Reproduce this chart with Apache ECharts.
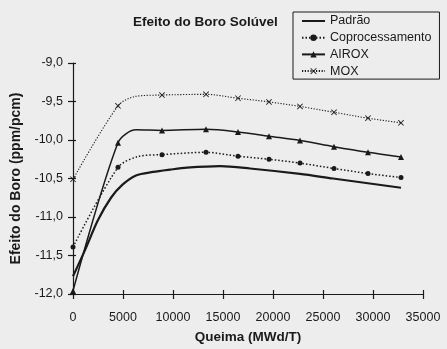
<!DOCTYPE html>
<html>
<head>
<meta charset="utf-8">
<script src="https://cdn.jsdelivr.net/npm/echarts@6/dist/echarts.min.js"></script>
<style>
html,body{margin:0;padding:0;background:#ededed;}
#chart{width:447px;height:349px;}
</style>
</head>
<body>
<div id="chart"></div>
<script>
// ---- data ----
const seriesNames = ['Padrão', 'Coprocessamento', 'AIROX', 'MOX'];
const xTicks = [0, 5000, 10000, 15000, 20000, 25000, 30000, 35000];
const yTicks = [-12.0, -11.5, -11.0, -10.5, -10.0, -9.5, -9.0];

// marked burnup points (MWd/T)
const burnup = [0, 4500, 8900, 13300, 16500, 19600, 22700, 26100, 29500, 32800];
const moxY   = [-10.51, -9.556, -9.416, -9.407, -9.458, -9.505, -9.564, -9.640, -9.717, -9.777];
const airoxY = [-11.96, -10.036, -9.875, -9.862, -9.895, -9.951, -10.006, -10.087, -10.160, -10.220];
const coproY = [-11.39, -10.355, -10.190, -10.160, -10.210, -10.250, -10.300, -10.370, -10.436, -10.487];

// unmarked bend points
const moxBendX = [6200];   const moxBendY = [-9.435];
const airoxBendX = [6300]; const airoxBendY = [-9.868];
const coproBendX = [6500]; const coproBendY = [-10.215];

// Padrão (no markers)
const padraoX = [0, 1200, 2500, 3800, 4950, 6300, 8000, 9700, 11400, 14700, 17700, 22700, 26000, 32800];
const padraoY = [-11.77, -11.43, -11.04, -10.75, -10.58, -10.46, -10.415, -10.385, -10.36, -10.34, -10.37, -10.44, -10.50, -10.62];

// ---- build ----
function merged(xs, ys, bx, by) {
  const pts = xs.map((x, i) => ({ value: [x, ys[i]] }));
  bx.forEach((x, i) => pts.push({ value: [x, by[i]], symbol: 'none' }));
  pts.sort((a, b) => a.value[0] - b.value[0]);
  return pts;
}
const ink = '#1a1a1a';
const font = "'Liberation Sans', Arial, Helvetica, sans-serif";
const xSym = 'path://M0,1 L1,0 L5,4 L9,0 L10,1 L6,5 L10,9 L9,10 L5,6 L1,10 L0,9 L4,5 Z';

const chart = echarts.init(document.getElementById('chart'), null, { renderer: 'canvas' });
const gridPos = { left: 73, right: 24, top: 63, bottom: 50 };
const fmtY = v => v.toFixed(1).replace('.', ',');
const fmtX = v => String(v);

chart.setOption({
  backgroundColor: '#ededed',
  animation: false,
  textStyle: { fontFamily: font, color: ink },
  title: {
    text: 'Efeito do Boro Solúvel',
    left: 133, top: 15, padding: 0,
    textStyle: { fontFamily: font, fontSize: 13.5, fontWeight: 'bold', color: ink }
  },
  legend: {
    orient: 'vertical',
    left: 293, top: 12,
    padding: [2, 8, 1, 8],
    borderColor: ink, borderWidth: 1,
    itemGap: 2.7, itemWidth: 23, itemHeight: 8,
    data: seriesNames,
    textStyle: { fontFamily: font, fontSize: 12.5, lineHeight: 14, color: ink }
  },
  grid: gridPos,
  xAxis: [{
    type: 'value', min: xTicks[0], max: xTicks[xTicks.length - 1], interval: 5000,
    name: 'Queima (MWd/T)', nameLocation: 'middle', nameGap: 36,
    nameTextStyle: { fontFamily: font, fontSize: 13.5, fontWeight: 'bold', color: ink },
    axisLine: { lineStyle: { color: ink, width: 1.2 } },
    axisTick: { show: true, length: 5, lineStyle: { color: ink, width: 1.2 } },
    axisLabel: { fontFamily: font, fontSize: 12.5, color: ink, margin: 17, formatter: fmtX },
    splitLine: { show: false }
  }, {
    type: 'value', min: xTicks[0], max: xTicks[xTicks.length - 1], interval: 5000, position: 'bottom',
    axisLine: { show: false },
    axisTick: { show: true, inside: true, length: 4, lineStyle: { color: ink, width: 1.2 } },
    axisLabel: { show: false }, splitLine: { show: false }
  }],
  yAxis: [{
    type: 'value', min: yTicks[0], max: yTicks[yTicks.length - 1], interval: 0.5,
    name: 'Efeito do Boro (ppm/pcm)', nameLocation: 'middle', nameGap: 44, nameRotate: 90,
    nameTextStyle: { fontFamily: font, fontSize: 14, fontWeight: 'bold', color: ink },
    axisLine: { show: true, lineStyle: { color: ink, width: 1.2 } },
    axisTick: { show: true, length: 5, lineStyle: { color: ink, width: 1.2 } },
    axisLabel: { fontFamily: font, fontSize: 12.5, color: ink, margin: 10, formatter: fmtY },
    splitLine: { show: false }
  }, {
    type: 'value', min: yTicks[0], max: yTicks[yTicks.length - 1], interval: 0.5, position: 'left',
    axisLine: { show: false },
    axisTick: { show: true, inside: true, length: 3, lineStyle: { color: ink, width: 1.2 } },
    axisLabel: { show: false }, splitLine: { show: false }
  }],
  series: [{
    name: seriesNames[0], type: 'line', smooth: 0.3, symbol: 'none',
    data: padraoX.map((x, i) => [x, padraoY[i]]),
    lineStyle: { color: ink, width: 2.2 }, itemStyle: { color: 'rgba(0,0,0,0)', borderWidth: 0 }
  }, {
    name: seriesNames[1], type: 'line', smooth: 0.3, symbol: 'circle', symbolSize: 5,
    data: merged(burnup, coproY, coproBendX, coproBendY),
    lineStyle: { color: ink, width: 1.5, type: [1.5, 2] }, itemStyle: { color: ink }
  }, {
    name: seriesNames[2], type: 'line', smooth: 0.3, symbol: 'triangle', symbolSize: 6,
    data: merged(burnup, airoxY, airoxBendX, airoxBendY),
    lineStyle: { color: ink, width: 1.5 }, itemStyle: { color: ink }
  }, {
    name: seriesNames[3], type: 'line', smooth: 0.3, symbol: xSym, symbolSize: 6,
    data: merged(burnup, moxY, moxBendX, moxBendY),
    lineStyle: { color: ink, width: 1.1, type: [1.2, 1.6] }, itemStyle: { color: ink }
  }]
});
</script>
</body>
</html>
